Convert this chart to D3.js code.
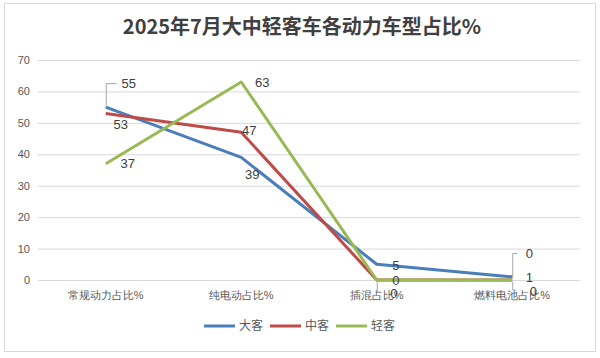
<!DOCTYPE html>
<html><head><meta charset="utf-8">
<script src="https://cdn.jsdelivr.net/npm/d3@7"></script>
<style>body{margin:0;background:#fff;}svg{display:block;font-family:"Noto Sans CJK SC","Microsoft YaHei",sans-serif;}</style>
</head><body>
<svg id="c" width="600" height="358"></svg>
<script>
const title = "2025年7月大中轻客车各动力车型占比%";
const categories = ["常规动力占比%", "纯电动占比%", "插混占比%", "燃料电池占比%"];
const seriesNames = ["大客", "中客", "轻客"];
const daKe = [55, 39, 5, 1];
const zhongKe = [53, 47, 0, 0];
const qingKe = [37, 63, 0, 0];
const yTicks = [0, 10, 20, 30, 40, 50, 60, 70];
const colors = ["#4A7EBB", "#BE4B48", "#98B954"];

const series = [daKe, zhongKe, qingKe];
// label offsets [dx, dy, leader] per series per point
const labelPos = [
  [[23, -24, "up"], [11, 17, null], [19, 1, null], [17, 1, null]],
  [[15, 11, null], [8, -2, null], [17, 13, "down"], [21, 11, "down"]],
  [[22, 0, null], [21, 0, null], [19, 0, null], [17, -27, "up"]]
];

const svg = d3.select("#c");
svg.append("rect").attr("x", 4.5).attr("y", 3.5).attr("width", 591).attr("height", 348)
  .attr("fill", "#fff").attr("stroke", "#d9d9d9");

svg.append("text").attr("x", 302).attr("y", 34).attr("text-anchor", "middle")
  .attr("font-size", 20).attr("font-weight", "bold").attr("fill", "#404040").text(title);

const x = d3.scaleBand().domain(categories).range([38, 580]);
const y = d3.scaleLinear().domain([0, 70]).range([280, 60]);
const cx = c => x(c) + x.bandwidth() / 2;

// grid
svg.append("g").selectAll("line").data(yTicks).join("line")
  .attr("x1", 38).attr("x2", 580).attr("y1", d => y(d) + 0.5).attr("y2", d => y(d) + 0.5)
  .attr("stroke", "#d9d9d9").attr("stroke-width", 1);

const yAxis = svg.append("g").attr("transform", "translate(38,0)")
  .call(d3.axisLeft(y).tickValues(yTicks).tickSize(0).tickPadding(8));
yAxis.select(".domain").remove();
yAxis.selectAll("text").attr("font-size", 11).attr("fill", "#595959")
  .attr("font-family", "Liberation Sans, Arial, sans-serif");

const xAxis = svg.append("g").attr("transform", "translate(0,280)")
  .call(d3.axisBottom(x).tickSize(0).tickPadding(11));
xAxis.select(".domain").remove();
xAxis.selectAll("text").attr("font-size", 11).attr("fill", "#595959");

const line = d3.line().x((d, i) => cx(categories[i])).y(d => y(d));
series.forEach((s, k) => {
  svg.append("path").datum(s).attr("d", line).attr("fill", "none")
    .attr("stroke", colors[k]).attr("stroke-width", 3).attr("stroke-linejoin", "round");
});

// data labels
series.forEach((s, k) => {
  s.forEach((v, i) => {
    const px = cx(categories[i]), py = y(v);
    const [dx, dy, leader] = labelPos[k][i];
    const lx = px + dx, ly = py + dy;
    if (leader === "up") {
      svg.append("path").attr("d", `M${px + 0.5},${py - 2}V${ly + 0.5}H${lx - 12}`)
        .attr("fill", "none").attr("stroke", "#a6a6a6").attr("stroke-width", 1);
    } else if (leader === "down") {
      svg.append("path").attr("d", `M${px + 0.5},${py + 2}V${ly - 1}H${px + 4}`)
        .attr("fill", "none").attr("stroke", "#a6a6a6").attr("stroke-width", 1);
    }
    svg.append("text").attr("x", lx).attr("y", ly).attr("dy", "0.35em")
      .attr("text-anchor", "middle").attr("font-size", 13).attr("fill", "#404040")
      .attr("font-family", "Liberation Sans, Arial, sans-serif").text(v);
  });
});

// legend
const legendX = [204, 270, 336];
seriesNames.forEach((n, k) => {
  const g = svg.append("g").attr("transform", `translate(${legendX[k]},326)`);
  g.append("line").attr("x1", 0).attr("x2", 31).attr("y1", 0).attr("y2", 0)
    .attr("stroke", colors[k]).attr("stroke-width", 3);
  g.append("text").attr("x", 35).attr("y", 0).attr("dy", "0.35em")
    .attr("font-size", 12).attr("fill", "#595959").text(n);
});
</script>
</body></html>
